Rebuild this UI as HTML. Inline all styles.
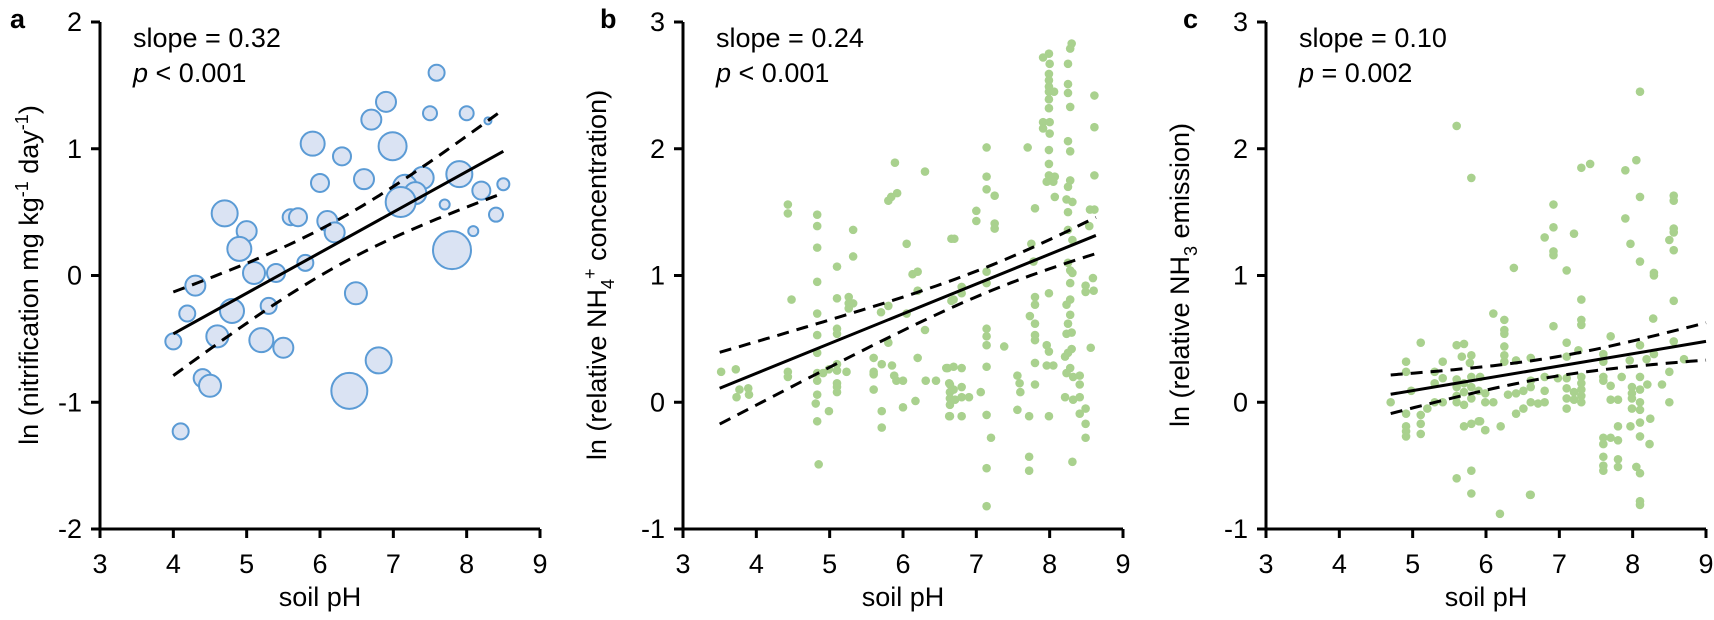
<!DOCTYPE html>
<html><head><meta charset="utf-8">
<style>
html,body{margin:0;padding:0;background:#fff;}
svg{display:block;font-family:"Liberation Sans",Arial,sans-serif;}
</style></head>
<body>
<svg id="fig" width="1714" height="620" viewBox="0 0 1714 620" xmlns="http://www.w3.org/2000/svg"></svg>
<script>
// ---- Panel a data ----
const aPH = [7.59,6.90,7.50,8.0,6.70,8.29,5.90,6.99,6.30,6.60,6.0,7.40,7.16,7.30,7.10,7.90,8.20,8.50,7.70,8.40,8.09,7.80,4.70,5.0,4.90,5.60,5.70,6.10,6.20,5.10,5.40,5.80,4.30,4.19,4.80,5.30,6.49,4.0,4.60,5.20,5.50,6.80,4.40,4.50,6.40,4.10];
const aVal = [1.60,1.37,1.28,1.28,1.23,1.22,1.04,1.02,0.94,0.76,0.73,0.77,0.70,0.65,0.58,0.80,0.67,0.72,0.56,0.48,0.35,0.20,0.49,0.35,0.21,0.46,0.46,0.43,0.34,0.02,0.02,0.10,-0.08,-0.30,-0.28,-0.24,-0.14,-0.52,-0.48,-0.51,-0.57,-0.67,-0.81,-0.87,-0.91,-1.23];
const aSize = [8,10,7,7,10,3.5,12,14,9,10,9,11,12,11,15,13,9,6,5,7,5,19,13,10,12,8,9,10,10,11,9,8,10,8,12,8,11,8,11,12,10,13,9,11,18,8];
const aFit = [-1.74, 0.32];           // intercept, slope
const aBand = [0.0324, 0.0151, 6.25]; // var0, k, xmean
const aRange = [4.0, 8.5];

// ---- Panel b data ----
const bPH = [3.52,3.72,3.73,3.77,3.89,3.90,4.43,4.43,4.48,4.43,4.43,4.83,4.83,4.83,4.83,4.83,4.83,4.83,4.83,4.83,4.83,4.81,4.83,4.85,4.99,4.91,4.99,5.10,5.10,5.10,5.10,5.10,5.10,5.10,5.10,5.10,5.23,5.26,5.26,5.32,5.26,5.32,5.32,5.60,5.60,5.60,5.60,5.70,5.71,5.71,5.71,5.80,5.84,5.92,5.89,5.80,5.80,5.85,5.88,5.91,6.00,6.00,6.05,6.05,6.13,6.20,6.20,6.20,6.17,6.30,6.30,6.31,6.45,6.61,6.66,6.66,6.64,6.64,6.64,6.64,6.64,
6.59,6.69,6.80,6.63,6.69,6.71,6.80,6.80,6.90,6.63,6.80,6.69,6.70,6.80,6.80,7.00,7.00,7.06,7.14,7.14,7.14,7.25,7.25,7.25,7.14,7.14,7.14,7.14,7.14,7.38,7.14,7.14,7.20,7.14,7.14,7.56,7.59,7.60,7.56,7.72,7.72,7.72,7.70,7.80,7.75,7.78,7.80,7.80,7.73,7.80,7.80,7.80,7.80,7.80,7.99,7.96,7.99,7.96,8.05,7.99,
7.91,7.99,8.00,7.99,7.99,7.99,7.99,8.06,7.99,7.99,7.91,8.00,7.91,8.00,7.99,7.99,7.99,8.07,7.96,8.05,8.07,
8.30,8.28,8.25,8.25,8.25,8.28,8.25,8.28,8.28,8.25,8.23,8.31,8.25,8.25,8.31,8.25,8.28,8.31,8.28,8.28,8.23,8.28,8.25,8.30,8.23,8.30,8.25,8.21,8.28,8.23,8.32,8.41,8.41,8.21,8.32,8.41,8.41,8.49,8.49,8.49,8.31,
8.61,8.61,8.61,8.61,8.55,8.54,8.59,8.60,8.49,8.49,8.56];
const bVal = [0.24,0.26,0.04,0.10,0.11,0.06,1.56,1.49,0.81,0.24,0.20,1.48,1.39,1.22,0.95,0.70,0.53,0.39,0.23,0.17,0.06,-0.01,-0.15,-0.49,-0.07,0.23,0.26,1.07,0.82,0.58,0.54,0.30,0.25,0.15,0.12,0.08,0.24,0.83,0.78,0.78,0.74,1.36,1.15,0.35,0.24,0.22,0.10,0.71,0.30,-0.07,-0.20,1.59,1.62,1.65,1.89,0.76,0.47,0.29,0.21,0.17,0.17,-0.04,1.25,0.70,1.01,1.03,0.88,0.35,0.01,1.82,0.57,0.17,0.17,0.27,1.29,0.80,0.14,0.08,0.03,-0.02,-0.11,
0.27,0.28,0.27,0.15,0.10,0.02,0.12,0.04,0.04,-0.11,-0.11,0.81,1.29,0.91,0.86,1.51,1.43,0.08,2.01,1.78,1.68,1.63,1.41,1.37,1.03,0.94,0.58,0.52,0.45,0.44,0.28,-0.10,-0.28,-0.52,-0.82,0.21,0.15,0.08,-0.06,-0.11,-0.43,-0.54,2.01,1.53,1.25,1.11,0.83,0.77,0.68,0.62,0.53,0.49,0.31,0.14,0.86,0.45,0.40,0.29,0.29,-0.11,
2.72,2.75,2.67,2.59,2.54,2.49,2.45,2.45,2.39,2.32,2.21,2.21,2.16,2.12,1.99,1.88,1.79,1.78,1.74,1.74,1.62,
2.83,2.79,2.67,2.51,2.44,2.33,2.06,1.98,1.75,1.70,1.60,1.58,1.50,1.36,1.28,1.10,1.04,1.02,0.94,0.81,0.77,0.69,0.62,0.55,0.54,0.42,0.39,0.36,0.27,0.23,0.20,0.21,0.14,0.04,0.02,0.04,-0.09,-0.05,-0.17,-0.28,-0.47,
2.42,2.17,1.79,1.52,1.52,1.39,0.98,0.88,0.92,0.87,0.43];
const bFit = [-0.712, 0.235];
const bBand = [0.01, 0.00513, 7.2];
const bRange = [3.5, 8.63];

// ---- Panel c data ----
const cPH = [5.60,5.80,5.11,4.91,4.91,5.41,5.30,5.41,5.30,4.70,4.98,4.91,5.11,5.11,5.11,4.91,4.91,4.91,5.20,5.30,5.41,5.60,5.70,5.80,5.67,5.78,5.60,5.60,5.60,5.60,5.70,5.70,5.70,5.80,5.80,5.80,5.90,5.99,5.70,5.80,5.90,5.99,5.60,5.80,5.80,6.19,6.60,8.10,
8.10,7.30,7.42,7.90,8.05,8.10,8.56,8.56,6.92,6.92,6.80,7.20,6.92,6.92,7.90,7.97,8.10,8.56,8.56,8.50,8.56,6.38,7.10,8.29,8.29,7.30,8.56,6.10,6.25,6.25,6.25,6.92,7.30,7.30,8.28,7.70,6.25,6.25,6.25,6.41,6.61,7.10,7.10,7.26,7.60,7.60,8.10,8.29,8.19,8.56,8.70,7.96,
5.92,5.99,6.10,5.99,5.92,6.20,6.30,6.41,6.51,6.41,6.51,6.61,6.71,6.80,6.80,6.61,6.61,6.80,6.98,7.10,7.10,7.10,7.10,7.20,7.20,7.30,7.30,7.30,7.30,7.30,7.60,7.60,7.70,7.70,7.80,7.85,7.99,7.99,7.99,7.99,8.10,8.10,8.10,8.10,8.20,8.24,8.40,8.50,8.50,7.97,7.80,8.10,8.10,8.23,7.60,7.60,7.60,7.60,7.60,7.70,7.80,7.80,7.80,8.05,8.10,6.61,8.10];
const cVal = [2.18,1.77,0.47,0.32,0.24,0.32,0.24,0.19,0.15,0.00,0.09,-0.09,-0.10,-0.17,-0.25,-0.19,-0.23,-0.27,-0.05,0.00,0.00,0.45,0.46,0.37,0.36,0.31,0.18,0.12,0.05,0.00,0.15,0.08,-0.02,0.20,0.12,0.03,0.09,0.00,-0.19,-0.17,-0.15,-0.22,-0.60,-0.54,-0.72,-0.88,-0.73,-0.81,
2.45,1.85,1.88,1.83,1.91,1.62,1.63,1.59,1.56,1.38,1.30,1.33,1.19,1.16,1.45,1.25,1.11,1.37,1.34,1.28,1.20,1.06,1.04,1.02,1.00,0.81,0.80,0.70,0.65,0.57,0.54,0.60,0.65,0.61,0.66,0.52,0.44,0.37,0.32,0.33,0.35,0.47,0.36,0.41,0.38,0.32,0.45,0.38,0.34,0.48,0.34,0.33,
0.20,0.07,0.00,-0.22,-0.15,-0.19,0.06,0.07,0.09,-0.09,-0.05,0.00,-0.01,0.00,0.09,0.17,0.12,0.20,0.19,0.19,0.11,0.03,-0.05,0.08,0.02,0.20,0.15,0.10,0.05,0.00,0.20,0.17,0.13,0.02,0.02,0.20,0.12,0.07,0.03,-0.05,0.20,0.10,0.00,-0.06,0.14,-0.13,0.14,0.24,0.00,-0.19,-0.19,-0.16,-0.27,-0.33,-0.28,-0.33,-0.43,-0.50,-0.54,-0.28,-0.30,-0.45,-0.51,-0.51,-0.56,-0.73,-0.78];
const cFit = [-0.393, 0.097];
const cBand = [0.0058, 0.0036, 6.9];
const cRange = [4.7, 9.0];

const xTicks = [3,4,5,6,7,8,9];
const aYTicks = [-2,-1,0,1,2];
const bYTicks = [-1,0,1,2,3];

const NS = "http://www.w3.org/2000/svg";
const svg = document.getElementById('fig');
function mk(tag, attrs, parent){
  const e = document.createElementNS(NS, tag);
  for (const k in attrs) e.setAttribute(k, attrs[k]);
  (parent||svg).appendChild(e);
  return e;
}

function panel(opt){
  const g = mk('g', {});
  
  
  const X0 = opt.x0, X1 = opt.x0 + 440, Ytop = 22, Ybot = 529;
  const sx = v => X0 + (v - 3) / 6 * (X1 - X0);
  const sy = v => Ybot - (v - opt.ymin) / (opt.ymax - opt.ymin) * (Ybot - Ytop);

  const pg = mk('g', {}, g);
  
  
  for (let i = 0; i < opt.px.length; i++) {
    const c = mk('circle', {cx: sx(opt.px[i]), cy: sy(opt.py[i]), r: opt.sizes ? opt.sizes[i] : 4.3,
      fill: opt.sizes ? '#dae3f3' : '#a9d18e', stroke: opt.sizes ? '#5b9bd5' : 'none', 'stroke-width': 2}, pg);
    
    
  }
  const [b0, b1] = opt.fit, [v0, k, xm] = opt.band, [r0, r1] = opt.range;
  const ln = mk('line', {x1: sx(r0), y1: sy(b0 + b1 * r0), x2: sx(r1), y2: sy(b0 + b1 * r1), stroke: '#000', 'stroke-width': 3}, g);
  
  
  [1, -1].forEach(sgn => {
    let d = '';
    for (let j = 0; j <= 40; j++) {
      const xv = r0 + (r1 - r0) * j / 40;
      const yv = b0 + b1 * xv + sgn * Math.sqrt(v0 + k * (xv - xm) * (xv - xm));
      d += (j ? 'L' : 'M') + sx(xv).toFixed(1) + ',' + sy(yv).toFixed(1);
    }
    const p = mk('path', {d: d, fill: 'none', stroke: '#000', 'stroke-width': 3, 'stroke-dasharray': '12,8'}, g);
    
    
  });

  const ax = mk('path', {d: `M${X0},${Ytop}H${X0 - 8}M${X0},${Ytop}V${Ybot}H${X1}`, fill: 'none', stroke: '#000', 'stroke-width': 3}, g);
  
  
  xTicks.forEach(t => {
    const tk = mk('line', {x1: sx(t), x2: sx(t), y1: Ybot, y2: Ybot + 9, stroke: '#000', 'stroke-width': 3}, g);
    
    
    const tl = mk('text', {x: sx(t), y: 573, 'font-size': 27, 'text-anchor': 'middle'}, g);
    tl.textContent = t;
    
    
  });
  opt.yticks.forEach(t => {
    const tk = mk('line', {x1: X0 - 9, x2: X0, y1: sy(t), y2: sy(t), stroke: '#000', 'stroke-width': 3}, g);
    
    
    const tl = mk('text', {x: X0 - 18, y: sy(t) + 9, 'font-size': 27, 'text-anchor': 'end'}, g);
    tl.textContent = t;
    
    
  });
  const xt = mk('text', {x: (X0 + X1) / 2, y: 606, 'font-size': 27, 'text-anchor': 'middle'}, g);
  xt.textContent = 'soil pH';
  
  
  const yt = mk('text', {transform: `translate(${opt.ylx},275) rotate(-90)`, 'font-size': 27, 'text-anchor': 'middle'}, g);
  yt.innerHTML = opt.ylabel;
  
  
  const pl = mk('text', {x: opt.lx, y: 28, 'font-size': 27, 'font-weight': 'bold'}, g);
  pl.textContent = opt.letter;
  
  
  const s1 = mk('text', {x: X0 + 33, y: 47, 'font-size': 27}, g);
  s1.textContent = opt.slope;
  
  
  const s2 = mk('text', {x: X0 + 33, y: 82, 'font-size': 27}, g);
  s2.innerHTML = '<tspan font-style="italic">p</tspan> ' + opt.p;
  
  
}

panel({name:'panel-a-nitrification', x0:100, ymin:-2, ymax:2, px:aPH, py:aVal, sizes:aSize, fit:aFit, band:aBand, range:aRange,
  yticks:aYTicks, ylx:38, lx:10, letter:'a', slope:'slope = 0.32', p:'&lt; 0.001',
  ylabel:'ln (nitrification mg kg<tspan font-size="18" dy="-10">-1</tspan><tspan dy="10"> day</tspan><tspan font-size="18" dy="-10">-1</tspan><tspan dy="10">)</tspan>'});
panel({name:'panel-b-nh4-concentration', x0:683, ymin:-1, ymax:3, px:bPH, py:bVal, fit:bFit, band:bBand, range:bRange,
  yticks:bYTicks, ylx:606, lx:600, letter:'b', slope:'slope = 0.24', p:'&lt; 0.001',
  ylabel:'ln (relative NH<tspan font-size="18" dy="8">4</tspan><tspan font-size="18" dy="-18">+</tspan><tspan dy="10"> concentration)</tspan>'});
panel({name:'panel-c-nh3-emission', x0:1266, ymin:-1, ymax:3, px:cPH, py:cVal, fit:cFit, band:cBand, range:cRange,
  yticks:bYTicks, ylx:1189, lx:1183, letter:'c', slope:'slope = 0.10', p:'= 0.002',
  ylabel:'ln (relative NH<tspan font-size="18" dy="8">3</tspan><tspan dy="-8"> emission)</tspan>'});
</script>
</body></html>
